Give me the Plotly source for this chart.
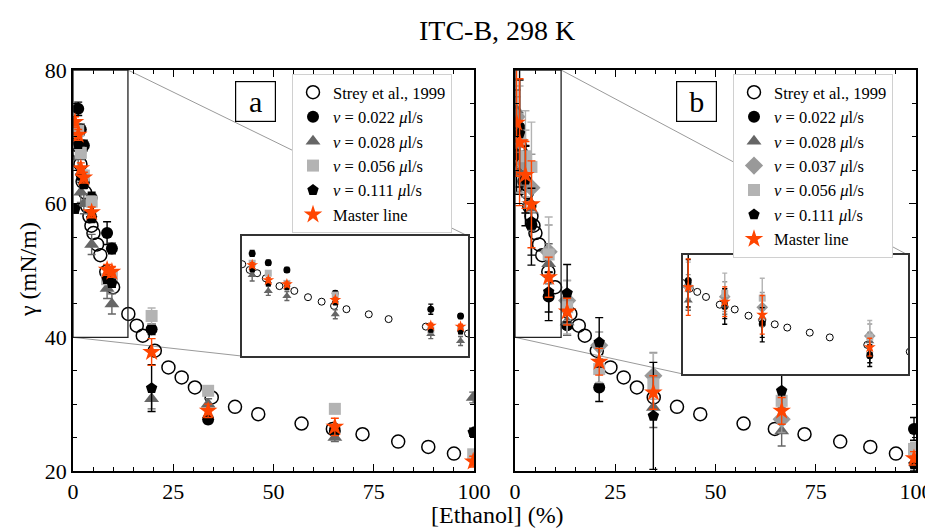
import plotly.graph_objects as go

SERIF = "Liberation Serif"

# ---------------- data ----------------
strey_x = [0.9, 1.2, 1.5, 1.85, 2.4, 3.0, 3.55, 4.1, 4.6, 5.1, 6.0, 6.8, 8.3, 10.0, 13.8,
           15.9, 17.4, 20.4, 23.8, 27.1, 30.4, 34.6, 40.4, 46.2, 57.0, 64.8, 72.2, 81.1, 88.6, 95.0]
strey_y = [70.6, 68.7, 67.6, 65.9, 63.3, 61.7, 59.6, 58.1, 56.7, 55.6, 53.9, 52.3, 49.8, 47.5, 43.5,
           41.75, 40.25, 38.0, 35.5, 34.0, 32.5, 31.0, 29.6, 28.5, 27.1, 26.3, 25.5, 24.4, 23.6, 22.6]

# panel a
xa = [0.5, 1.3, 1.95, 2.7, 4.65, 8.5, 9.7, 19.6, 33.7, 65.3, 99.8]
a_v022 = [None, 74.2, 71.1, 68.7, 60.9, 55.6, 53.3, 41.2, 27.7, 26.0, None]
a_v022_err = [0, 1.0, 0.8, 0.8, 0.8, 1.7, 0.8, 0.8, 0.6, 0.6, 0]
a_v028 = [None, 67.0, 61.7, 60.0, 53.9, 47.3, 45.0, 30.8, 30.0, 25.0, 31.0]
a_v028_err = [0, 2.0, 1.5, 1.5, 1.5, 1.5, 1.5, 1.5, 0.8, 0.6, 0.8]
a_v056 = [None, 70.9, 67.6, 64.2, 60.3, 48.7, 49.2, 43.2, 32.0, 29.3, 22.5]
a_v056_err = [0, 0.8, 0.8, 0.8, 0.8, 0.8, 0.8, 1.2, 0.6, 0.6, 0.6]
a_v111 = [59.2, 68.9, 64.2, 62.9, 57.8, 48.7, 48.1, 32.4, 27.8, 26.2, 25.8]
a_v111_err = [0.6, 0.6, 0.6, 0.6, 0.6, 0.6, 0.6, 3.5, 0.6, 0.6, 0.6]
a_master = [72.2, 70.3, 65.3, 63.9, 58.7, 50.1, 49.8, 37.8, 29.0, 26.6, 21.4]
a_master_err = [0.8, 0.8, 0.8, 0.8, 0.8, 0.8, 0.8, 2.0, 1.0, 1.3, 0.8]

# panel b
xb = [0.4, 1.14, 2.6, 4.1, 8.4, 13.0, 21.0, 34.5, 66.5, 99.5]
b_v022 = [67.4, 71.4, 62.7, 56.8, 46.1, 41.8, 32.5, None, None, 26.3]
b_v022_err = [6, 10, 6, 6, 3.6, 1.5, 2.1, 0, 0, 1.7]
b_v028 = [74.0, 64.7, 63.0, 59.0, 51.0, 42.3, None, 29.5, 26.0, None]
b_v028_err = [3, 3, 3, 3, 3, 2, 0, 3, 2.25, 0]
b_v037 = [73.0, 69.4, 66.0, 62.4, 52.8, 45.5, 38.8, 34.25, 27.75, None]
b_v037_err = [3, 4, 5, 5, 4, 3, 2, 3.5, 2, 0]
b_v056 = [None, 69.6, 67.1, 65.5, 52.4, 44.5, 35.25, 33.0, 30.5, 23.3]
b_v056_err = [0, 8, 6.8, 6.7, 5.6, 4.0, 2, 4.6, 2, 1]
b_v111 = [None, 70.5, 63.6, 57.3, 46.8, 46.6, 39.25, 28.25, 32.0, 21.0]
b_v111_err = [0, 8, 5, 5, 3, 4.3, 3.7, 8, 2.6, 1]
b_master = [72.1, 69.2, 64.3, 59.9, 49.0, 43.85, 36.35, 31.75, 29.0, 21.9]
b_master_err = [8, 9.5, 5, 6.5, 3, 2, 2, 2.5, 2, 1]

x_ticks = [0, 25, 50, 75, 100]
y_ticks = [20, 40, 60, 80]

# ---------------- layout geometry ----------------
OFF = 8  # page body margin
W, H = 933 - OFF, 530 - OFF
def px2x(p): return (p - OFF) / W
def py2y(p): return 1 - (p - OFF) / H

dom_ax = [px2x(73), px2x(474)]
dom_bx = [px2x(515), px2x(916)]
dom_y = [py2y(471), py2y(70)]
ins_a_x = [px2x(241.5), px2x(468)]
ins_a_y = [py2y(356), py2y(236)]
ins_b_x = [px2x(683), px2x(908)]
ins_b_y = [py2y(374), py2y(255)]
main_xr = [0, 100]
main_yr = [20, 80]
ins_a_xr = [0.87, 10.0]
ins_b_xr = [0.93, 9.93]
ins_yr = [40, 80]
zoom_a = [0, 13.7]
zoom_b = [0, 11.5]

c022 = "#000000"
c028 = "#666666"
c037 = "#999999"
c056 = "#b3b3b3"
c111 = "#000000"
cmas = "#ff4500"

fig = go.Figure()

def add_series(x, y, err, name, symbol, color, xa_, ya_, size, legend, show, errw=1.4, capw=4):
    fig.add_trace(go.Scatter(
        x=x, y=y, mode="markers", name=name, legend=legend, showlegend=show,
        xaxis=xa_, yaxis=ya_, cliponaxis=True,
        marker=dict(symbol=symbol, color=color, size=size, line=dict(width=0)),
        error_y=dict(type="data", array=err, visible=True, color=color,
                     thickness=errw, width=capw),
    ))

def add_strey(xa_, ya_, size, legend, show, lw=1.5):
    fig.add_trace(go.Scatter(
        x=strey_x, y=strey_y, mode="markers", name="Strey et al., 1999",
        legend=legend, showlegend=show, xaxis=xa_, yaxis=ya_,
        marker=dict(symbol="circle-open", color="black", size=size, line=dict(width=lw, color="black")),
    ))

lab = lambda v: "<i>ν</i> = %s <i>μ</i>l/s" % v

for (xa_, ya_, msize, ssize, show, capw) in [("x", "y", 12, 13, True, 4), ("x3", "y3", 7, 7, False, 2.5)]:
    add_strey(xa_, ya_, ssize, "legend", show, 1.5 if show else 1.0)
    add_series(xa, a_v022, a_v022_err, lab("0.022"), "circle", c022, xa_, ya_, msize, "legend", show, capw=capw)
    add_series(xa, a_v028, a_v028_err, lab("0.028"), "triangle-up", c028, xa_, ya_, msize + 1, "legend", show, capw=capw)
    add_series(xa, a_v056, a_v056_err, lab("0.056"), "square", c056, xa_, ya_, msize, "legend", show, capw=capw)
    add_series(xa, a_v111, a_v111_err, lab("0.111"), "pentagon", c111, xa_, ya_, msize, "legend", show, capw=capw)
    add_series(xa, a_master, a_master_err, "Master line", "star", cmas, xa_, ya_, msize + 2, "legend", show, capw=capw)

for (xa_, ya_, msize, ssize, show, capw) in [("x2", "y2", 12, 13, True, 4), ("x4", "y4", 7, 7, False, 2.5)]:
    add_strey(xa_, ya_, ssize, "legend2", show, 1.5 if show else 1.0)
    add_series(xb, b_v022, b_v022_err, lab("0.022"), "circle", c022, xa_, ya_, msize, "legend2", show, capw=capw)
    add_series(xb, b_v028, b_v028_err, lab("0.028"), "triangle-up", c028, xa_, ya_, msize + 1, "legend2", show, capw=capw)
    add_series(xb, b_v037, b_v037_err, lab("0.037"), "diamond", c037, xa_, ya_, msize + 2, "legend2", show, capw=capw)
    add_series(xb, b_v056, b_v056_err, lab("0.056"), "square", c056, xa_, ya_, msize, "legend2", show, capw=capw)
    add_series(xb, b_v111, b_v111_err, lab("0.111"), "pentagon", c111, xa_, ya_, msize, "legend2", show, capw=capw)
    add_series(xb, b_master, b_master_err, "Master line", "star", cmas, xa_, ya_, msize + 2, "legend2", show, capw=capw)

tickfont = dict(family=SERIF, size=22, color="black")

def main_x(dom, anchor):
    return dict(domain=dom, anchor=anchor, range=main_xr, tickvals=x_ticks, ticks="inside",
                ticklen=7, tickwidth=1, tickcolor="black", mirror="ticks", showline=True,
                linecolor="black", linewidth=1.5, showgrid=False, zeroline=False, tickfont=tickfont,
                automargin=False,
                minor=dict(dtick=5, tick0=0, ticks="inside", ticklen=4, tickcolor="black", tickwidth=1, showgrid=False))

def main_y(anchor, labels):
    return dict(domain=dom_y, anchor=anchor, range=main_yr, tickvals=y_ticks, ticks="inside",
                ticklen=7, tickwidth=1, tickcolor="black", mirror="ticks", showline=True,
                linecolor="black", linewidth=1.5, showgrid=False, zeroline=False, tickfont=tickfont,
                showticklabels=labels, automargin=False,
                minor=dict(dtick=5, tick0=0, ticks="inside", ticklen=4, tickcolor="black", tickwidth=1, showgrid=False))

def inset_axis(dom, anchor, rng):
    return dict(domain=dom, anchor=anchor, range=rng, showticklabels=False, ticks="",
                showline=True, mirror=True, linecolor="#333333", linewidth=1.5,
                showgrid=False, zeroline=False, automargin=False)

legend_common = dict(bgcolor="white", bordercolor="#d0d0d0", borderwidth=1,
                     font=dict(family=SERIF, size=16.5, color="black"),
                     xanchor="left", yanchor="top", tracegroupgap=0, itemsizing="trace")

fig.update_layout(
    width=W, height=H, margin=dict(l=0, r=0, t=0, b=0, autoexpand=False),
    paper_bgcolor="white", plot_bgcolor="white",
    xaxis=main_x(dom_ax, "y"), yaxis=main_y("x", True),
    xaxis2=main_x(dom_bx, "y2"), yaxis2=main_y("x2", False),
    xaxis3=inset_axis(ins_a_x, "y3", ins_a_xr), yaxis3=inset_axis(ins_a_y, "x3", ins_yr),
    xaxis4=inset_axis(ins_b_x, "y4", ins_b_xr), yaxis4=inset_axis(ins_b_y, "x4", ins_yr),
    legend=dict(x=px2x(292), y=py2y(74), **legend_common),
    legend2=dict(x=px2x(733), y=py2y(74), **legend_common),
    showlegend=True,
)

def d2p(xd, yd, xdom):
    px = xdom[0] + (xd - main_xr[0]) / (main_xr[1] - main_xr[0]) * (xdom[1] - xdom[0])
    py = dom_y[0] + (yd - main_yr[0]) / (main_yr[1] - main_yr[0]) * (dom_y[1] - dom_y[0])
    return px, py

shapes = []
for (xr_, yr_, zoom, xdom, ix, iy) in [("x", "y", zoom_a, dom_ax, ins_a_x, ins_a_y),
                                       ("x2", "y2", zoom_b, dom_bx, ins_b_x, ins_b_y)]:
    shapes.append(dict(type="rect", xref=xr_, yref=yr_, x0=zoom[0], x1=zoom[1], y0=ins_yr[0], y1=ins_yr[1],
                       line=dict(color="#222222", width=1.3), fillcolor="rgba(0,0,0,0)", layer="above"))
    p1 = d2p(zoom[1], ins_yr[1], xdom)
    p2 = d2p(zoom[0], ins_yr[0], xdom)
    shapes.append(dict(type="line", xref="paper", yref="paper", x0=p1[0], y0=p1[1], x1=ix[1], y1=iy[1],
                       line=dict(color="#9a9a9a", width=1), layer="below"))
    shapes.append(dict(type="line", xref="paper", yref="paper", x0=p2[0], y0=p2[1], x1=ix[0], y1=iy[0],
                       line=dict(color="#9a9a9a", width=1), layer="below"))
fig.update_layout(shapes=shapes)

ann = [
    dict(text="ITC-B, 298 K", x=px2x(497), y=py2y(30), xref="paper", yref="paper", showarrow=False,
         font=dict(family=SERIF, size=28, color="black"), xanchor="center", yanchor="middle"),
    dict(text="[Ethanol] (%)", x=px2x(497), y=py2y(515), xref="paper", yref="paper", showarrow=False,
         font=dict(family=SERIF, size=24, color="black"), xanchor="center", yanchor="middle"),
    dict(text="γ (mN/m)", x=px2x(28), y=py2y(270), xref="paper", yref="paper", showarrow=False,
         textangle=-90, font=dict(family=SERIF, size=24, color="black"), xanchor="center", yanchor="middle"),
    dict(text="a", x=px2x(255.5), y=py2y(102), xref="paper", yref="paper", showarrow=False,
         font=dict(family=SERIF, size=30, color="black"), width=37, height=37, bordercolor="black",
         borderwidth=1.2, bgcolor="white", xanchor="center", yanchor="middle", valign="middle"),
    dict(text="b", x=px2x(696.5), y=py2y(102), xref="paper", yref="paper", showarrow=False,
         font=dict(family=SERIF, size=30, color="black"), width=37, height=37, bordercolor="black",
         borderwidth=1.2, bgcolor="white", xanchor="center", yanchor="middle", valign="middle"),
]
fig.update_layout(annotations=ann)

fig.write_html("out.html")
